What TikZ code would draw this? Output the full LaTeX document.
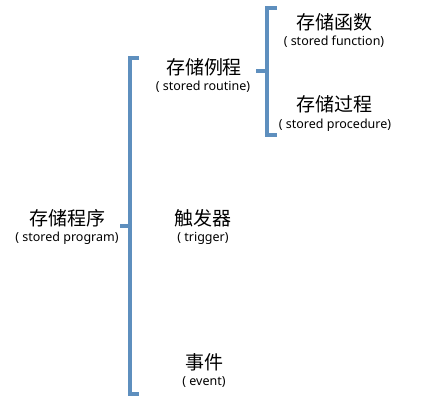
\documentclass[tikz,border=0pt]{standalone}
\usepackage{fontspec}
\setmainfont{Noto Sans CJK SC}
\newfontfamily\latinf{Noto Sans}
\definecolor{brk}{HTML}{5E8FBE}
\begin{document}
\begin{tikzpicture}[x=1pt,y=-1pt,
  brack/.style={draw=brk,line width=3.2pt},
  zh/.style={font=\fontsize{19}{19}\selectfont,inner sep=0pt},
  en/.style={font=\latinf\fontsize{12.5}{12.5}\selectfont,inner sep=0pt}]
\useasboundingbox (0,0) rectangle (424,406);
% texts
\node[zh] (prog) at (68,218) {存储程序};
\node[en] (progE) at (67,238) {( stored program)};
\node[zh] (rout) at (204,67) {存储例程};
\node[en] (routE) at (203,87) {( stored routine)};
\node[zh] (trig) at (203,218) {触发器};
\node[en] (trigE) at (203,238) {( trigger)};
\node[zh] (evt) at (204,362) {事件};
\node[en] (evtE) at (204,382) {( event)};
\node[zh] (func) at (334,22) {存储函数};
\node[en] (funcE) at (334,42) {( stored function)};
\node[zh] (proc) at (334,104) {存储过程};
\node[en] (procE) at (335,125) {( stored procedure)};
% brackets
\coordinate (b1) at (120,226);
\draw[brack] (139,58) -- (130,58) -- (130,394) -- (139,394);
\draw[brack] (b1) -- (130,226);
\coordinate (b2) at (256,71);
\draw[brack] (277,8) -- (267,8) -- (267,135) -- (277,135);
\draw[brack] (b2) -- (267,71);
\end{tikzpicture}
\end{document}
